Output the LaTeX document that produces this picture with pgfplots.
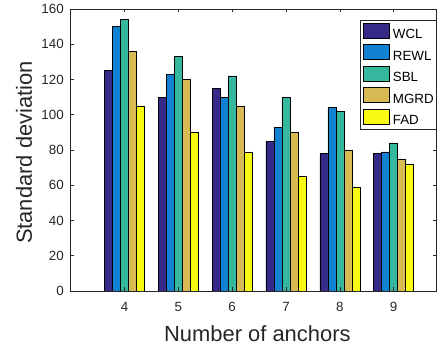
\documentclass[border=0pt]{standalone}
\usepackage{fontspec}
\setmainfont{Liberation Sans}
\usepackage{pgfplots}
\pgfplotsset{compat=1.18}

% parula-style bar colours
\definecolor{cWCL}{RGB}{53,42,135}
\definecolor{cREWL}{RGB}{18,129,210}
\definecolor{cSBL}{RGB}{54,184,158}
\definecolor{cMGRD}{RGB}{215,186,84}
\definecolor{cFAD}{RGB}{249,250,20}
\definecolor{axisgray}{RGB}{38,38,38}

\begin{document}
\begin{tikzpicture}
\begin{axis}[
  at={(70.7bp,60bp)}, anchor=south west,
  scale only axis, width=366bp, height=282bp,
  xmin=3, xmax=9.8, ymin=0, ymax=160,
  xtick={4,...,9}, ytick={0,20,...,160},
  ybar=0pt, bar width=8bp,
  axis on top,
  tick align=inside, major tick length=3.5bp,
  axis line style={axisgray, line width=0.6bp},
  every tick/.style={axisgray, line width=0.6bp},
  tick label style={font=\fontsize{13.4}{14}\selectfont, text=axisgray},
  /pgf/number format/assume math mode=true,
  xticklabel style={anchor=center, yshift=-15.7bp},
  yticklabel style={anchor=east, inner sep=0pt, xshift=-6.8bp},
  xlabel={Number of anchors},
  ylabel={Standard deviation},
  label style={font=\fontsize{22}{24}\selectfont, text=axisgray},
  xlabel style={at={(axis description cs:0.51,-0.1507)}, anchor=center},
  ylabel style={at={(axis description cs:-0.1276,0.491)}, anchor=center},
  legend style={at={(1,1)}, anchor=north east, yshift=-11bp,
    draw=axisgray, line width=0.6bp,
    font=\fontsize{13.4}{14}\selectfont,
    inner xsep=2.7bp, inner ysep=2.7bp,
    row sep=4bp, column sep=3.4bp,
    nodes={inner sep=0pt}},
  legend cell align=left,
  legend image code/.code={\draw[#1, line width=0.5bp] (0bp,-3.2bp) rectangle (26bp,11.8bp);},
]
\addplot[fill=cWCL, draw=black, line width=0.5bp] coordinates {(4,125) (5,110) (6,115) (7,85) (8,78) (9,78)};
\addplot[fill=cREWL, draw=black, line width=0.5bp] coordinates {(4,150) (5,123) (6,110) (7,93) (8,104) (9,79)};
\addplot[fill=cSBL, draw=black, line width=0.5bp] coordinates {(4,154) (5,133) (6,122) (7,110) (8,102) (9,84)};
\addplot[fill=cMGRD, draw=black, line width=0.5bp] coordinates {(4,136) (5,120) (6,105) (7,90) (8,80) (9,75)};
\addplot[fill=cFAD, draw=black, line width=0.5bp] coordinates {(4,105) (5,90) (6,79) (7,65) (8,59) (9,72)};
\legend{WCL,REWL,SBL,MGRD,FAD}
\end{axis}
\pgfresetboundingbox
\path[use as bounding box] (0,0) rectangle (440bp,351bp);
\end{tikzpicture}
\end{document}
